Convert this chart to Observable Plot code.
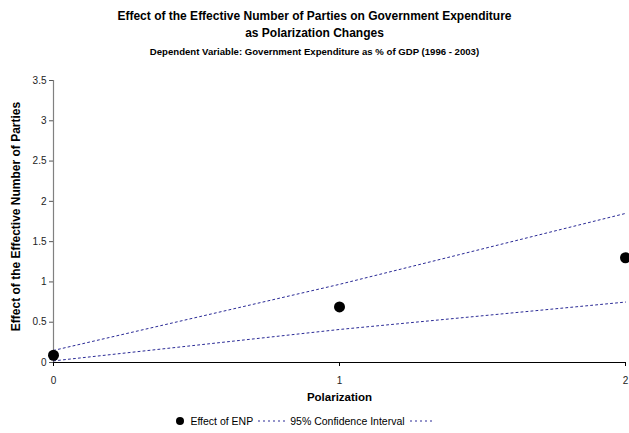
<!DOCTYPE html>
<html>
<head>
<meta charset="utf-8">
<script src="https://cdn.jsdelivr.net/npm/d3@7"></script>
<script src="https://cdn.jsdelivr.net/npm/@observablehq/plot@0.6"></script>
<style>
  html, body { margin: 0; padding: 0; background: #fff; }
  #wrap { position: relative; width: 629px; height: 433px; font-family: "Liberation Sans", Arial, sans-serif; color: #000; overflow: hidden; }
  #title { position: absolute; left: 0; top: 8px; width: 629px; text-align: center; font-weight: bold; font-size: 12px; line-height: 17px; }
  #subtitle { position: absolute; left: 0; top: 45px; width: 629px; text-align: center; font-weight: bold; font-size: 9.6px; line-height: 13px; }
  #chart { position: absolute; left: 0; top: 0; }
  #legend { position: absolute; left: 0; top: 414px; width: 610px; display: flex; justify-content: center; align-items: center; font-size: 10.5px; line-height: 14px; }
  #legend svg { display: block; }
  #legend span { margin: 0 4px 0 5px; }
</style>
</head>
<body>
<div id="wrap">
  <div id="chart"></div>
  <div id="title">Effect of the Effective Number of Parties on Government Expenditure<br>as Polarization Changes</div>
  <div id="subtitle">Dependent Variable: Government Expenditure as % of GDP (1996 - 2003)</div>
  <div id="legend"></div>
</div>
<script>
// Polarization levels and the estimated effect of ENP with its 95% confidence bounds
const polarization = [0, 1, 2];
const effectENP = [0.09, 0.69, 1.30];
const upperCI = [0.15, 0.97, 1.85];
const lowerCI = [0.02, 0.41, 0.75];
const yTicks = [0, 0.5, 1, 1.5, 2, 2.5, 3, 3.5];
const xTicks = [0, 1, 2];
const seriesNames = ["Effect of ENP", "95% Confidence Interval"];

const ciColor = "#2a2a96";

const pts = polarization.map((p, i) => ({p, v: effectENP[i]}));
const up = polarization.map((p, i) => ({p, v: upperCI[i]}));
const lo = polarization.map((p, i) => ({p, v: lowerCI[i]}));

const chart = Plot.plot({
  width: 629,
  height: 433,
  marginTop: 80,
  marginBottom: 71,
  marginLeft: 53,
  marginRight: 4,
  style: {fontFamily: "'Liberation Sans', Arial, sans-serif", fontSize: "10px", background: "transparent", overflow: "visible"},
  x: {domain: [0, 2]},
  y: {domain: [0, 3.5]},
  marks: [
    Plot.axisY({ticks: yTicks, tickSize: 4, tickPadding: 3, tickFormat: d => String(d), label: null, stroke: "#555", fill: "#222"}),
    Plot.axisX({ticks: xTicks, tickSize: 4, tickPadding: 10, tickFormat: d => String(d), label: null, stroke: "#000", fill: "#222"}),
    Plot.ruleX([0], {stroke: "#808080", strokeWidth: 1.2}),
    Plot.ruleY([0], {stroke: "#000"}),
    Plot.line(up, {x: "p", y: "v", stroke: ciColor, strokeWidth: 1, strokeDasharray: "2 3"}),
    Plot.line(lo, {x: "p", y: "v", stroke: ciColor, strokeWidth: 1, strokeDasharray: "2 3"}),
    Plot.dot(pts, {x: "p", y: "v", r: 5.5, fill: "#000", stroke: "none"}),
    Plot.text(["Effect of the Effective Number of Parties"], {frameAnchor: "left", textAnchor: "middle", dx: -37, dy: -5, rotate: -90, fontWeight: "bold", fontSize: 12, fill: "#000"}),
    Plot.text(["Polarization"], {frameAnchor: "bottom", dy: 38, fontWeight: "bold", fontSize: 11.5, fill: "#000"})
  ]
});
document.getElementById("chart").appendChild(chart);

// Legend: dot marker, then dotted line swatches around the interval label
const legend = d3.select("#legend");
const dotSw = legend.append("svg").attr("width", 10).attr("height", 10);
dotSw.append("circle").attr("cx", 5).attr("cy", 5).attr("r", 4).attr("fill", "#000");
legend.append("span").text(seriesNames[0]);
const l1 = legend.append("svg").attr("width", 28).attr("height", 6);
l1.append("line").attr("x1", 1).attr("x2", 28).attr("y1", 3).attr("y2", 3).attr("stroke", ciColor).attr("stroke-dasharray", "2 3");
legend.append("span").text(seriesNames[1]);
const l2 = legend.append("svg").attr("width", 26).attr("height", 6);
l2.append("line").attr("x1", 1).attr("x2", 26).attr("y1", 3).attr("y2", 3).attr("stroke", ciColor).attr("stroke-dasharray", "2 3");
</script>
</body>
</html>
